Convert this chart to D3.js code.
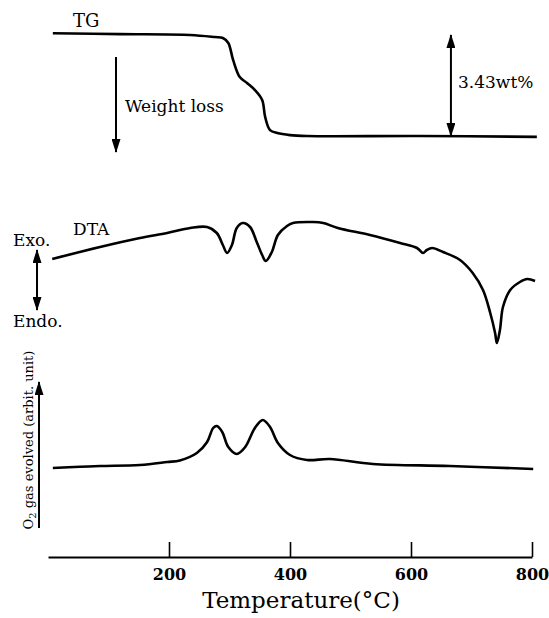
<!DOCTYPE html>
<html>
<head>
<meta charset="utf-8">
<script src="https://cdn.jsdelivr.net/npm/d3@7"></script>
<style>
  body { margin: 0; background: #fff; }
  text { font-family: "DejaVu Serif", serif; fill: #000; }
</style>
</head>
<body>
<div id="chart"></div>
<script>
// TG curve (temperature in C, weight %)
var tgTemp   = [8, 119, 235, 276, 289, 298, 306, 317, 329, 342, 354, 359, 367, 379, 400, 428, 615, 808];
var tgWeight = [100.06, 100.03, 100.0, 99.93, 99.90, 99.73, 99.15, 98.57, 98.37, 98.13, 97.79, 97.21, 96.77, 96.67, 96.60, 96.57, 96.57, 96.54];

// DTA curve (temperature, arbitrary signal)
var dtaTemp   = [7, 86, 152, 197, 235, 263, 279, 289, 296, 304, 312, 322, 334, 345, 354, 360, 370, 380, 395, 405, 438, 455, 479, 532, 582, 610, 620, 626, 635, 653, 681, 702, 719, 731, 739, 742, 747, 752, 764, 780, 792, 805];
var dtaSignal = [-3.6, 1.2, 4.8, 6.8, 8.8, 9.2, 6.8, 2.0, -1.2, 2.0, 8.8, 10.8, 9.2, 3.2, -2.0, -4.4, -0.8, 6.0, 9.6, 10.8, 11.2, 10.8, 8.8, 6.0, 2.8, 0.8, -1.2, 0.0, 0.8, -0.8, -4.0, -9.2, -16, -25.2, -33.2, -37.2, -32, -22.8, -16, -12.8, -11.6, -12.4];

// O2 evolved (temperature, arbitrary units)
var o2Temp   = [8, 53, 86, 152, 197, 218, 246, 263, 273, 279, 288, 298, 312, 326, 342, 355, 367, 380, 400, 428, 466, 537, 664, 802];
var o2Signal = [1.0, 1.6, 2.0, 2.5, 4.0, 4.8, 8.5, 14, 21, 22, 19, 11.5, 8, 11.5, 21, 25, 21.5, 13.5, 7.5, 5, 5.5, 3, 2, 0.5];

var tickValues = [200, 400, 600, 800];
var weightLoss = 3.43;

var width = 549, height = 618;

var svg = d3.select("#chart")
  .append("svg")
    .attr("width", width)
    .attr("height", height);

var defs = svg.append("defs");
defs.append("marker")
    .attr("id", "head")
    .attr("markerUnits", "userSpaceOnUse")
    .attr("viewBox", "0 0 14 9")
    .attr("markerWidth", 14)
    .attr("markerHeight", 9)
    .attr("refX", 13)
    .attr("refY", 4.5)
    .attr("orient", "auto-start-reverse")
  .append("path")
    .attr("d", "M0,0 L14,4.5 L0,9 Z")
    .attr("fill", "#000");

// scales
var x = d3.scaleLinear().domain([0, 800]).range([48, 532]);
var yTG = d3.scaleLinear().domain([100 - weightLoss, 100]).range([136, 35]);
var yDTA = d3.scaleLinear().domain([-40, 20]).range([350, 200]);
var yO2 = d3.scaleLinear().domain([0, 30]).range([470, 410]);

// x axis
var xAxis = svg.append("g")
    .attr("transform", "translate(0,557)")
    .call(d3.axisBottom(x)
      .tickValues(tickValues)
      .tickSize(-15)
      .tickSizeOuter(0)
      .tickPadding(12));
xAxis.select(".domain").attr("stroke-width", 2);
xAxis.selectAll(".tick line").attr("stroke-width", 1.6);
xAxis.selectAll(".tick text")
    .style("font-family", "DejaVu Serif")
    .style("font-size", "16px")
    .style("font-weight", "bold");

svg.append("text")
    .attr("x", 301)
    .attr("y", 608)
    .attr("text-anchor", "middle")
    .style("font-size", "23px")
    .text("Temperature(\u00B0C)");

// curves
function drawCurve(temps, vals, yScale) {
  var pts = temps.map(function (t, i) { return [t, vals[i]]; });
  svg.append("path")
    .datum(pts)
    .attr("fill", "none")
    .attr("stroke", "#000")
    .attr("stroke-width", 2.6)
    .attr("stroke-linejoin", "round")
    .attr("d", d3.line()
      .curve(d3.curveCatmullRom.alpha(0.5))
      .x(function (d) { return x(d[0]); })
      .y(function (d) { return yScale(d[1]); }));
}
drawCurve(tgTemp, tgWeight, yTG);
drawCurve(dtaTemp, dtaSignal, yDTA);
drawCurve(o2Temp, o2Signal, yO2);

// arrows
function arrow(x1, y1, x2, y2, both) {
  var l = svg.append("line")
    .attr("x1", x1).attr("y1", y1)
    .attr("x2", x2).attr("y2", y2)
    .attr("stroke", "#000")
    .attr("stroke-width", 2)
    .attr("marker-end", "url(#head)");
  if (both) l.attr("marker-start", "url(#head)");
}
arrow(116, 57, 116, 152, false);
arrow(x(666), yTG(100), x(666), yTG(100 - weightLoss), true);
arrow(37, 250, 37, 310, true);
arrow(39, 528, 39, 382, false);

// labels
function label(tx, ty, str, size) {
  svg.append("text")
    .attr("x", tx)
    .attr("y", ty)
    .style("font-size", size + "px")
    .text(str);
}
label(73, 27, "TG", 18);
label(125, 112, "Weight loss", 17);
label(458, 88, weightLoss.toFixed(2) + "wt%", 17);
label(73, 235, "DTA", 17);
label(13, 246, "Exo.", 17);
label(13, 327, "Endo.", 17);

var o2Label = svg.append("text")
    .attr("transform", "translate(33,440) rotate(-90)")
    .attr("text-anchor", "middle")
    .style("font-size", "13px");
o2Label.append("tspan").text("O");
o2Label.append("tspan").attr("dy", 3).style("font-size", "10px").text("2");
o2Label.append("tspan").attr("dy", -3).text(" gas evolved (arbit. unit)");
</script>
</body>
</html>
